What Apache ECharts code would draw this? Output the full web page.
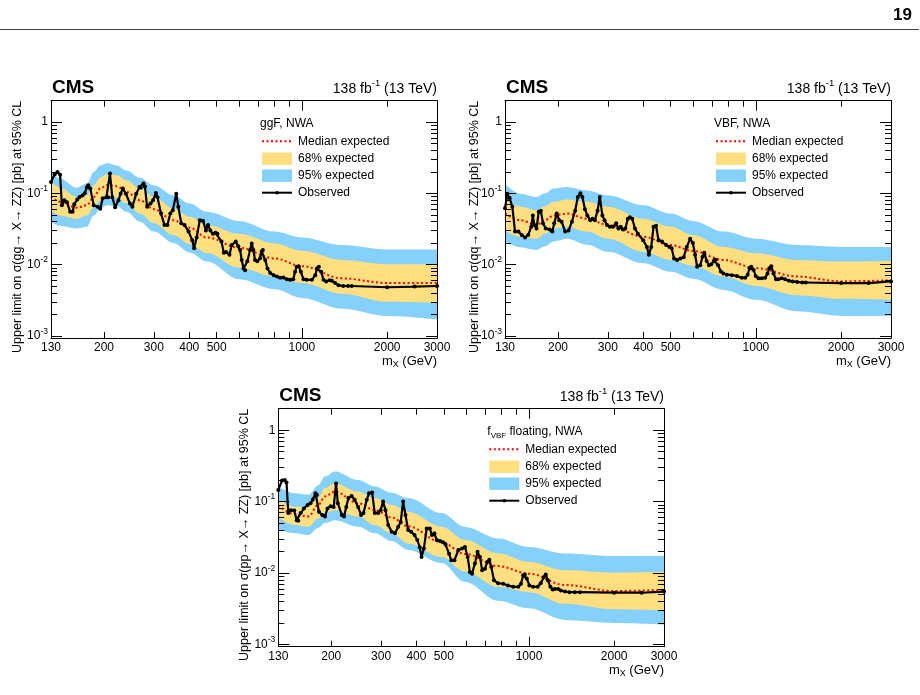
<!DOCTYPE html>
<html>
<head>
<meta charset="utf-8">
<script src="https://cdn.jsdelivr.net/npm/echarts@6/dist/echarts.min.js"></script>
<style>
  html, body { margin: 0; padding: 0; background: #fff; }
  #chart { width: 920px; height: 695px; }
</style>
</head>
<body>
<div id="chart"></div>
<script>
// ---- values ----

// ggF, NWA : expected limit and bands (pb)
const ggfExpMass = [130, 140, 160, 174, 184, 194, 205, 222, 240, 268, 300, 352, 401, 462, 600, 800, 1000, 1384, 2000, 3000];
const ggfExp95Hi = [0.204, 0.161, 0.120, 0.137, 0.200, 0.247, 0.267, 0.247, 0.210, 0.166, 0.130, 0.094, 0.072, 0.055, 0.041, 0.029, 0.024, 0.0188, 0.0163, 0.0163];
const ggfExp68Hi = [0.144, 0.120, 0.089, 0.094, 0.130, 0.166, 0.185, 0.180, 0.153, 0.117, 0.089, 0.061, 0.047, 0.036, 0.027, 0.0198, 0.0156, 0.0116, 0.0101, 0.0101];
const ggfExpMedian = [0.090, 0.076, 0.063, 0.068, 0.089, 0.117, 0.130, 0.126, 0.105, 0.080, 0.060, 0.042, 0.033, 0.024, 0.0172, 0.0122, 0.0095, 0.0064, 0.0055, 0.0055];
const ggfExp68Lo = [0.058, 0.049, 0.044, 0.049, 0.064, 0.080, 0.089, 0.087, 0.072, 0.052, 0.038, 0.026, 0.0195, 0.0145, 0.0090, 0.0068, 0.0055, 0.0039, 0.0030, 0.0029];
const ggfExp95Lo = [0.040, 0.035, 0.032, 0.034, 0.049, 0.061, 0.068, 0.066, 0.055, 0.040, 0.029, 0.020, 0.0148, 0.011, 0.0062, 0.0045, 0.0034, 0.0024, 0.0019, 0.0017];
const ggfObsMass = [130, 134, 137, 140, 142, 145, 148, 152, 155, 157, 161, 164, 168, 171, 174, 176, 179, 184, 190, 194,
  198, 204, 207, 210, 214, 219, 225, 229, 233, 239, 247, 252, 260, 267, 270, 276, 279, 284, 292, 298,
  305, 309, 318, 327, 335, 343, 350, 360, 366, 375, 385, 398, 410, 416, 425, 436, 448, 458, 466, 475,
  485, 495, 503, 520, 530, 540, 555, 565, 584, 596, 605, 613, 622, 630, 642, 656, 665, 674, 683, 696,
  712, 721, 728, 742, 756, 773, 795, 817, 838, 860, 885, 909, 932, 946, 958, 975, 992, 1013, 1040, 1085,
  1115, 1130, 1148, 1170, 1192, 1219, 1252, 1276, 1311, 1347, 1400, 1455, 1500, 2000, 2500, 3000];
const ggfObsLimit = [0.144, 0.185, 0.200, 0.182, 0.068, 0.080, 0.075, 0.055, 0.055, 0.070, 0.082, 0.089, 0.093, 0.100, 0.122, 0.130, 0.117, 0.068, 0.065, 0.061,
  0.085, 0.088, 0.088, 0.190, 0.088, 0.064, 0.080, 0.099, 0.117, 0.099, 0.072, 0.065, 0.099, 0.123, 0.120, 0.137, 0.125, 0.065, 0.072, 0.080,
  0.101, 0.088, 0.052, 0.036, 0.036, 0.052, 0.058, 0.099, 0.065, 0.038, 0.036, 0.029, 0.022, 0.017, 0.024, 0.042, 0.041, 0.030, 0.036, 0.030,
  0.027, 0.028, 0.027, 0.021, 0.0146, 0.015, 0.0137, 0.0188, 0.021, 0.018, 0.016, 0.0116, 0.0088, 0.0083, 0.0111, 0.016, 0.0198, 0.016, 0.0116, 0.0111,
  0.0123, 0.0152, 0.016, 0.0116, 0.0088, 0.0076, 0.0071, 0.0068, 0.0065, 0.0066, 0.0062, 0.0061, 0.0062, 0.0079, 0.0093, 0.0095, 0.0079, 0.0062, 0.0061, 0.0061,
  0.0071, 0.0088, 0.0093, 0.0079, 0.0061, 0.0058, 0.0060, 0.0059, 0.0055, 0.0051, 0.0050, 0.0050, 0.0050, 0.0048, 0.0049, 0.0050];

// VBF, NWA
const vbfExpMass = [130, 147, 168, 180, 193, 215, 253, 300, 400, 500, 600, 767, 1000, 1395, 2000, 3000];
const vbfExp95Hi = [0.135, 0.099, 0.089, 0.100, 0.117, 0.123, 0.110, 0.094, 0.068, 0.052, 0.041, 0.029, 0.023, 0.0188, 0.0177, 0.0177];
const vbfExp68Hi = [0.083, 0.065, 0.058, 0.066, 0.076, 0.082, 0.076, 0.065, 0.044, 0.034, 0.026, 0.0177, 0.0144, 0.0116, 0.0110, 0.0112];
const vbfExpMedian = [0.052, 0.042, 0.036, 0.042, 0.049, 0.052, 0.044, 0.036, 0.0245, 0.0188, 0.0155, 0.0116, 0.0089, 0.0068, 0.0058, 0.0060];
const vbfExp68Lo = [0.030, 0.0245, 0.023, 0.027, 0.032, 0.034, 0.029, 0.023, 0.0151, 0.0116, 0.0096, 0.0068, 0.0050, 0.0037, 0.0033, 0.0032];
const vbfExp95Lo = [0.021, 0.0175, 0.016, 0.018, 0.021, 0.023, 0.019, 0.0151, 0.0104, 0.0079, 0.0063, 0.0044, 0.0032, 0.0022, 0.0019, 0.0019];
const vbfObsMass = [130, 132.5, 135, 138, 141, 145, 149, 153, 157, 161, 163, 165, 168, 171, 174, 177, 181, 187, 191, 194,
  198, 202, 206, 212, 218, 224, 230, 235, 240, 244, 249, 254, 260, 265, 270, 276, 281, 287, 292, 298,
  305, 313, 321, 327, 333, 339, 346, 353, 359, 366, 374, 383, 400, 412, 419, 427, 435, 444, 453, 466,
  482, 495, 504, 514, 527, 541, 556, 570, 586, 599, 610, 620, 636, 648, 657, 670, 683, 696, 712, 722,
  735, 752, 768, 789, 822, 857, 892, 917, 935, 950, 963, 982, 998, 1021, 1049, 1078, 1099, 1116, 1133, 1154,
  1178, 1200, 1234, 1269, 1308, 1349, 1400, 1458, 1500, 2000, 2500, 3000];
const vbfObsLimit = [0.062, 0.099, 0.085, 0.065, 0.029, 0.029, 0.026, 0.024, 0.026, 0.034, 0.049, 0.036, 0.032, 0.055, 0.057, 0.038, 0.032, 0.031, 0.029, 0.038,
  0.052, 0.042, 0.040, 0.029, 0.030, 0.040, 0.057, 0.089, 0.100, 0.089, 0.060, 0.049, 0.042, 0.044, 0.042, 0.057, 0.089, 0.049, 0.042, 0.036,
  0.034, 0.034, 0.038, 0.032, 0.034, 0.031, 0.032, 0.044, 0.046, 0.044, 0.032, 0.027, 0.022, 0.0177, 0.0137, 0.0177, 0.034, 0.035, 0.022, 0.021,
  0.0188, 0.0177, 0.017, 0.0122, 0.0116, 0.0122, 0.0127, 0.0177, 0.023, 0.020, 0.0137, 0.0093, 0.0098, 0.0129, 0.0147, 0.0112, 0.0098, 0.0101, 0.0114, 0.0117,
  0.0098, 0.0080, 0.0075, 0.0072, 0.0071, 0.0069, 0.0065, 0.0065, 0.0072, 0.0089, 0.0093, 0.0084, 0.0069, 0.0064, 0.0064, 0.0065, 0.0075, 0.0089, 0.0095, 0.0075,
  0.0062, 0.0062, 0.0064, 0.0062, 0.0059, 0.0058, 0.0057, 0.0056, 0.0056, 0.0055, 0.0055, 0.0058];

// f_VBF floating, NWA
const fvbfExpMass = [130, 149, 166, 180, 190, 206, 249, 285, 327, 374, 491, 594, 778, 1000, 1340, 2000, 3000];
const fvbfExp95Hi = [0.160, 0.131, 0.125, 0.170, 0.225, 0.265, 0.200, 0.163, 0.133, 0.112, 0.069, 0.044, 0.0305, 0.0232, 0.0188, 0.0173, 0.0173];
const fvbfExp68Hi = [0.106, 0.085, 0.085, 0.115, 0.155, 0.180, 0.138, 0.112, 0.090, 0.072, 0.0445, 0.029, 0.0188, 0.0143, 0.0109, 0.0101, 0.0104];
const fvbfExpMedian = [0.088, 0.066, 0.062, 0.090, 0.118, 0.138, 0.095, 0.076, 0.060, 0.045, 0.027, 0.0185, 0.0125, 0.0098, 0.0068, 0.0056, 0.0058];
const fvbfExp68Lo = [0.060, 0.047, 0.0445, 0.058, 0.070, 0.076, 0.062, 0.047, 0.036, 0.026, 0.0168, 0.0105, 0.0064, 0.0054, 0.0037, 0.0031, 0.0030];
const fvbfExp95Lo = [0.041, 0.036, 0.034, 0.043, 0.050, 0.055, 0.0445, 0.036, 0.028, 0.021, 0.0138, 0.0075, 0.0041, 0.0032, 0.0022, 0.0020, 0.0019];
const fvbfObsMass = [130, 134, 137, 139, 141, 144, 148, 151, 153, 156, 160, 165, 169, 172, 176, 178, 181, 186, 190, 194,
  199, 204, 208, 211, 218, 222, 226, 230, 236, 242, 249, 255, 260, 267, 272, 279, 285, 293, 299, 305,
  311, 318, 327, 336, 345, 352, 359, 366, 374, 383, 394, 403, 411, 417, 425, 435, 446, 454, 463, 472,
  485, 497, 507, 522, 531, 545, 563, 580, 594, 607, 618, 629, 644, 658, 671, 683, 699, 712, 724, 736,
  752, 778, 811, 843, 880, 917, 937, 954, 967, 982, 1003, 1034, 1073, 1100, 1129, 1146, 1166, 1190, 1212, 1234,
  1268, 1295, 1340, 1390, 1453, 1515, 2000, 2500, 3000];
const fvbfObsLimit = [0.146, 0.198, 0.200, 0.185, 0.069, 0.076, 0.075, 0.055, 0.054, 0.069, 0.080, 0.090, 0.095, 0.106, 0.131, 0.124, 0.072, 0.065, 0.062, 0.080,
  0.086, 0.084, 0.180, 0.095, 0.065, 0.062, 0.084, 0.112, 0.120, 0.106, 0.084, 0.065, 0.069, 0.106, 0.131, 0.134, 0.069, 0.069, 0.076, 0.100,
  0.076, 0.047, 0.038, 0.036, 0.0445, 0.052, 0.100, 0.065, 0.040, 0.038, 0.034, 0.029, 0.023, 0.0168, 0.022, 0.042, 0.042, 0.034, 0.036, 0.029,
  0.028, 0.027, 0.025, 0.0186, 0.0151, 0.0151, 0.021, 0.022, 0.0232, 0.0168, 0.0103, 0.0098, 0.0136, 0.0198, 0.0168, 0.0109, 0.0115, 0.0143, 0.0154, 0.0121,
  0.0079, 0.0072, 0.0071, 0.0067, 0.0064, 0.0064, 0.0071, 0.0093, 0.0095, 0.0084, 0.0067, 0.0064, 0.0064, 0.0072, 0.0088, 0.0095, 0.0079, 0.0064, 0.0059, 0.0060,
  0.0060, 0.0057, 0.0055, 0.0054, 0.0054, 0.0054, 0.0053, 0.0053, 0.0055];

// axis ticks and labels
const xLabelValues = [130, 200, 300, 400, 500, 1000, 2000, 3000];
const xMajorTicks = [1000];
const xMinorTicks = [200, 300, 400, 500, 600, 700, 800, 900, 2000];
const yLabelValues = [0.001, 0.01, 0.1, 1];
const yMinorTicks = [0.002, 0.003, 0.004, 0.005, 0.006, 0.007, 0.008, 0.009,
  0.02, 0.03, 0.04, 0.05, 0.06, 0.07, 0.08, 0.09,
  0.2, 0.3, 0.4, 0.5, 0.6, 0.7, 0.8, 0.9, 2];

const X_MIN = 130, X_MAX = 3000, Y_MIN = 0.00093, Y_MAX = 2;
const FONT = '"Liberation Sans", Arial, Helvetica, sans-serif';
const YELLOW = '#FFDF7F', BLUE = '#85D1FB', RED = '#FF0000';

const panels = [
  { L: 51, T: 100.7, W: 386, H: 237.3, titleX: 18,
    yTitle: 'Upper limit on σ(gg→ X→ ZZ) [pb] at 95% CL', legendTitle: '{a|ggF, NWA}',
    m: ggfExpMass, b2: ggfExp95Hi, b1: ggfExp68Hi, med: ggfExpMedian, a1: ggfExp68Lo, a2: ggfExp95Lo,
    om: ggfObsMass, ov: ggfObsLimit },
  { L: 505, T: 100.7, W: 386, H: 237.3, titleX: 475,
    yTitle: 'Upper limit on σ(qq→ X→ ZZ) [pb] at 95% CL', legendTitle: '{a|VBF, NWA}',
    m: vbfExpMass, b2: vbfExp95Hi, b1: vbfExp68Hi, med: vbfExpMedian, a1: vbfExp68Lo, a2: vbfExp95Lo,
    om: vbfObsMass, ov: vbfObsLimit },
  { L: 278.3, T: 408.7, W: 385.7, H: 238, titleX: 245,
    yTitle: 'Upper limit on σ(pp→ X→ ZZ) [pb] at 95% CL', legendTitle: '{a|f}{s|VBF}{a| floating, NWA}',
    m: fvbfExpMass, b2: fvbfExp95Hi, b1: fvbfExp68Hi, med: fvbfExpMedian, a1: fvbfExp68Lo, a2: fvbfExp95Lo,
    om: fvbfObsMass, ov: fvbfObsLimit }
];

const zip = (xs, ys) => xs.map((x, i) => [x, ys[i]]);

function fmtPow(v) {
  const e = Math.round(Math.log10(v));
  if (e === 0) return '{b|1}';
  return '{b|10}{s|' + e + '}';
}

function makeX(gi, pos, ticks, len, labels, line) {
  return {
    type: 'log', logBase: 10, gridIndex: gi, position: pos, min: X_MIN, max: X_MAX, z: 10,
    axisLine: { show: line, onZero: false, lineStyle: { color: '#000', width: 1 } },
    axisTick: { show: true, inside: true, length: len, customValues: ticks, lineStyle: { color: '#000', width: 1 } },
    axisLabel: labels ? {
      show: true, customValues: xLabelValues, margin: 4, color: '#000', fontSize: 12, fontFamily: FONT,
      showMinLabel: true, showMaxLabel: true, hideOverlap: false,
      formatter: v => String(Math.round(v))
    } : { show: false },
    splitLine: { show: false }
  };
}

function makeY(gi, pos, ticks, len, labels, line) {
  return {
    type: 'log', logBase: 10, gridIndex: gi, position: pos, min: Y_MIN, max: Y_MAX, z: 10,
    axisLine: { show: line, onZero: false, lineStyle: { color: '#000', width: 1 } },
    axisTick: { show: true, inside: true, length: len, customValues: ticks, lineStyle: { color: '#000', width: 1 } },
    axisLabel: labels ? {
      show: true, customValues: yLabelValues, margin: 3, color: '#000', fontFamily: FONT,
      showMinLabel: true, showMaxLabel: true, hideOverlap: false,
      formatter: fmtPow,
      rich: {
        b: { fontSize: 12, fontFamily: FONT, color: '#000', lineHeight: 18 },
        s: { fontSize: 8.5, fontFamily: FONT, color: '#000', lineHeight: 10, verticalAlign: 'top' }
      }
    } : { show: false },
    splitLine: { show: false }
  };
}

function bandEdge(xi, yi, mass, vals, fill) {
  return {
    type: 'line', xAxisIndex: xi, yAxisIndex: yi, data: zip(mass, vals),
    smooth: 0.35, smoothMonotone: 'x', symbol: 'none', silent: true,
    lineStyle: { width: 0, opacity: 0 },
    areaStyle: { color: fill, opacity: 1, origin: 'start' }
  };
}

const grid = [], xAxis = [], yAxis = [], series = [], graphic = [];

graphic.push({ type: 'line', shape: { x1: 0, y1: 29.5, x2: 919, y2: 29.5 }, style: { stroke: '#444', lineWidth: 1.2 } });
graphic.push({ type: 'text', x: 912, y: 15, style: { text: '19', font: 'bold 17px ' + FONT, fill: '#000', align: 'right', verticalAlign: 'middle' } });

panels.forEach((p, gi) => {
  grid.push({ left: p.L, top: p.T, width: p.W, height: p.H, containLabel: false, outerBoundsMode: 'none' });
  const xi = xAxis.length, yi = yAxis.length;
  xAxis.push(makeX(gi, 'bottom', xMajorTicks, 10, true, true));
  xAxis.push(makeX(gi, 'bottom', xMinorTicks, 6, false, false));
  xAxis.push(makeX(gi, 'top', xMajorTicks, 10, false, true));
  xAxis.push(makeX(gi, 'top', xMinorTicks, 6, false, false));
  yAxis.push(makeY(gi, 'left', yLabelValues, 11, true, true));
  yAxis.push(makeY(gi, 'left', yMinorTicks, 6, false, false));
  yAxis.push(makeY(gi, 'right', yLabelValues, 11, false, true));
  yAxis.push(makeY(gi, 'right', yMinorTicks, 6, false, false));

  // bands: filled from each edge down to the axis start, painted in order
  series.push(bandEdge(xi, yi, p.m, p.b2, BLUE));
  series.push(bandEdge(xi, yi, p.m, p.b1, YELLOW));
  series.push(bandEdge(xi, yi, p.m, p.a1, BLUE));
  series.push(bandEdge(xi, yi, p.m, p.a2, '#ffffff'));
  series.push({
    name: 'Median expected', type: 'line', xAxisIndex: xi, yAxisIndex: yi, data: zip(p.m, p.med),
    smooth: 0.35, smoothMonotone: 'x', symbol: 'none', silent: true,
    lineStyle: { color: RED, width: 2, type: [2, 2.5] }
  });
  series.push({
    name: 'Observed', type: 'line', xAxisIndex: xi, yAxisIndex: yi, data: zip(p.om, p.ov),
    symbol: 'circle', symbolSize: 4, showAllSymbol: true, silent: true,
    lineStyle: { color: '#000', width: 2.2 }, itemStyle: { color: '#000' }
  });

  // texts around the frame
  graphic.push({ type: 'text', x: p.L + 1, y: p.T - 12.6, style: { text: 'CMS', font: 'bold 19px ' + FONT, fill: '#000', verticalAlign: 'middle' } });
  graphic.push({ type: 'text', x: p.L + p.W, y: p.T - 12, style: {
    text: '{a|138 fb}{s|-1}{a| (13 TeV)}', align: 'right', verticalAlign: 'middle',
    rich: { a: { fontSize: 14, fontFamily: FONT, color: '#000', lineHeight: 20 },
            s: { fontSize: 9.5, fontFamily: FONT, color: '#000', lineHeight: 10, verticalAlign: 'top' } } } });
  graphic.push({ type: 'text', x: p.titleX, y: p.T, rotation: Math.PI / 2, style: {
    text: p.yTitle, font: '12.5px ' + FONT, fill: '#000', align: 'right', verticalAlign: 'middle' } });
  graphic.push({ type: 'text', x: p.L + p.W, y: p.T + p.H + 23.5, style: {
    text: '{a|m}{s|X}{a| (GeV)}', align: 'right', verticalAlign: 'middle',
    rich: { a: { fontSize: 13, fontFamily: FONT, color: '#000', lineHeight: 16 },
            s: { fontSize: 9, fontFamily: FONT, color: '#000', lineHeight: 9, verticalAlign: 'bottom' } } } });

  // legend
  const lx = p.L + 211, tx = p.L + 247;
  const rows = [p.T + 40.5, p.T + 58, p.T + 75, p.T + 92];
  graphic.push({ type: 'text', x: p.L + 209, y: p.T + 23, style: {
    text: p.legendTitle, align: 'left', verticalAlign: 'middle',
    rich: { a: { fontSize: 12, fontFamily: FONT, color: '#000', lineHeight: 16 },
            s: { fontSize: 8, fontFamily: FONT, color: '#000', lineHeight: 8, verticalAlign: 'bottom' } } } });
  graphic.push({ type: 'line', shape: { x1: lx, y1: rows[0], x2: lx + 30, y2: rows[0] }, style: { stroke: RED, lineWidth: 2, lineDash: [2, 2.5] } });
  graphic.push({ type: 'rect', shape: { x: lx, y: rows[1] - 6.2, width: 30, height: 12.4 }, style: { fill: YELLOW } });
  graphic.push({ type: 'rect', shape: { x: lx, y: rows[2] - 6.2, width: 30, height: 12.4 }, style: { fill: BLUE } });
  graphic.push({ type: 'line', shape: { x1: lx, y1: rows[3], x2: lx + 30, y2: rows[3] }, style: { stroke: '#000', lineWidth: 2 } });
  graphic.push({ type: 'circle', shape: { cx: lx + 15, cy: rows[3], r: 1.8 }, style: { fill: '#000' } });
  ['Median expected', '68% expected', '95% expected', 'Observed'].forEach((t, i) => {
    graphic.push({ type: 'text', x: tx, y: rows[i], style: { text: t, font: '12px ' + FONT, fill: '#000', verticalAlign: 'middle' } });
  });
});

const chart = echarts.init(document.getElementById('chart'), null, { renderer: 'canvas' });
chart.setOption({
  backgroundColor: '#ffffff',
  animation: false,
  textStyle: { fontFamily: FONT },
  grid, xAxis, yAxis, series, graphic
});
</script>
</body>
</html>
